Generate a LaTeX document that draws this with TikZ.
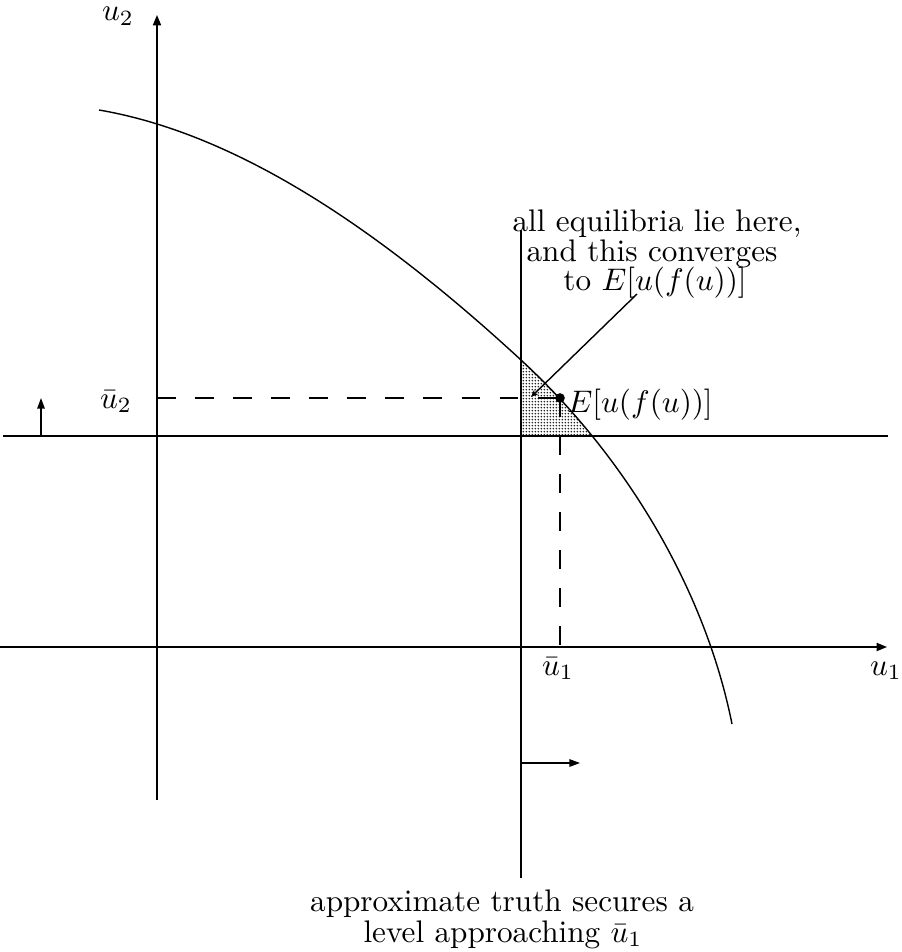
\documentclass[tikz,border=0pt]{standalone}
\usetikzlibrary{arrows.meta,patterns.meta}
\tikzdeclarepattern{
  name=finedots,
  type=uncolored,
  bounding box={(0pt,0pt) and (0.9pt,0.9pt)},
  tile size={(0.9pt,0.9pt)},
  code={\fill (0.45pt,0.45pt) circle (0.3pt);}
}
\tikzset{
  axis/.style={line width=0.45pt,-{Triangle[length=3.3pt,width=2.6pt]}},
  plain/.style={line width=0.45pt},
  guide/.style={line width=0.45pt,dash pattern=on 6pt off 6.2pt},
  smallarrow/.style={line width=0.45pt,-{Triangle[length=3.4pt,width=2.4pt]}},
  pointer/.style={line width=0.45pt,-{Stealth[length=2.4pt,width=2pt]}},
  txt/.style={inner sep=0pt,font=\normalsize},
}
\begin{document}
\begin{tikzpicture}[x=0.3205pt,y=-0.3205pt]
\useasboundingbox (0,0) rectangle (901,952);
% coordinates
\coordinate (v2bot) at (157,800);
\coordinate (v2top) at (157,15);
\coordinate (h1left) at (0,647);
\coordinate (h1right) at (887,647);
\coordinate (h2left) at (3,436);
\coordinate (h2right) at (888,436);
\coordinate (vtop) at (521,230);
\coordinate (vbot) at (521,878);
\coordinate (upfoot) at (41,436);
\coordinate (uphead) at (41,398);
\coordinate (rfoot) at (521,763);
\coordinate (rhead) at (580,763);
\coordinate (dashL) at (157,398);
\coordinate (dashB) at (560,647);
\coordinate (ptr) at (637,294);
\coordinate (ptrtip) at (531,397);
\coordinate (cA) at (99,110);
\coordinate (cM) at (521,360);
\coordinate (cZ) at (732,724);
% shaded region
\begin{scope}
\clip (521,0) rectangle (901,436);
\fill[pattern={finedots},pattern color=black!85] (cA) .. controls (239,134) and (381,231) .. (cM) .. controls (624,455) and (704.5,587) .. (cZ) -- (732,952) -- (0,952) -- (0,110) -- cycle;
\end{scope}
% axes and lines
\draw[axis] (v2bot) -- (v2top);
\draw[axis] (h1left) -- (h1right);
\draw[plain] (h2left) -- (h2right);
\draw[plain] (vtop) -- (vbot);
\draw[smallarrow] (upfoot) -- (uphead);
\draw[smallarrow] (rfoot) -- (rhead);
% curve
\draw[plain] (cA) .. controls (239,134) and (381,231) .. (cM) .. controls (624,455) and (704.5,587) .. (cZ);
% point and guides
\node[circle,fill,inner sep=0pt,minimum size=3.1pt] (E) at (560,398) {};
\draw[guide] (dashL) -- (E.center);
\draw[guide] (E.center) -- (dashB);
% labels
\node[txt,anchor=base] (lu2) at (118,21) {$u_2$};
\node[txt,anchor=base] (lbu2) at (116,408) {$\bar u_2$};
\node[txt,anchor=base] (lbu1) at (558,675) {$\bar u_1$};
\node[txt,anchor=base] (lu1) at (886,675) {$u_1$};
\node[txt,anchor=base west] (lE) at (567,412) {$E[u(f(u))]$};
\node[txt,anchor=base] (t1) at (657,232) {all equilibria lie here,};
\node[txt,anchor=base] (t2) at (652,262) {and this converges};
\node[txt,anchor=base] (t3) at (655,291) {to $E[u(f(u))]$};
\node[txt,anchor=base] (b1) at (502,911) {approximate truth secures a};
\node[txt,anchor=base] (b2) at (503,942) {level approaching $\bar u_1$};
\draw[pointer] (ptr) -- (ptrtip);
\end{tikzpicture}
\end{document}
